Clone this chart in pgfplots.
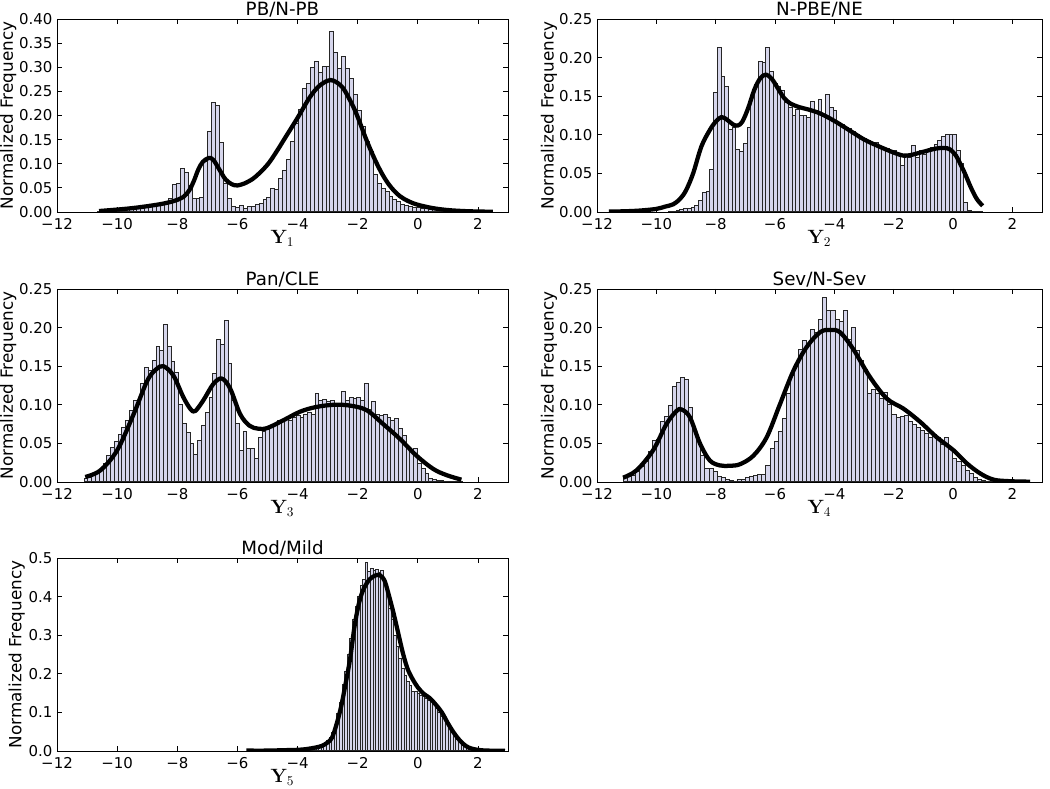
\documentclass[border=0pt]{standalone}
\usepackage[no-math]{fontspec}
\setmainfont{DejaVu Sans}
\usepackage{pgfplots}
\pgfplotsset{compat=1.18}
\definecolor{histfill}{RGB}{214,214,236}
\pgfplotsset{
  every axis title shift=0pt,
  panel/.style={
    scale only axis, anchor=south west,
    xmin=-12, xmax=3, ymin=0,
    xtick={-12,-10,-8,-6,-4,-2,0,2},
    xticklabels={−12,−10,−8,−6,−4,−2,0,2},
    tick align=inside,
    major tick length=3.5pt,
    axis line style={line width=0.6pt},
    tick style={black, line width=0.6pt},
    ticklabel style={font=\fontsize{11.2}{13}\selectfont},
    xticklabel style={yshift=-1.2pt},
    title style={font=\fontsize{13.7}{16}\selectfont, at={(axis description cs:0.5,1)}, anchor=base, yshift=2.8pt},
    xlabel style={font=\fontsize{14}{16}\selectfont, at={(axis description cs:0.5,0)}, anchor=base, yshift=-23.5pt},
    ylabel style={font=\fontsize{12.6}{15}\selectfont, at={(axis description cs:-0.108,0.5)}, anchor=center},
    ylabel={Normalized Frequency},
    scaled y ticks=false,
  },
  y25/.style={ymax=0.25, ytick={0,0.05,0.1,0.15,0.2,0.25}, yticklabels={0.00,0.05,0.10,0.15,0.20,0.25}},
  hist/.style={ybar interval, fill=histfill, draw=black!85, line width=0.75pt},
  kde/.style={black, line width=3.2pt, smooth, tension=0.55, line join=round},
}
\begin{document}
\begin{tikzpicture}
\path[use as bounding box] (0,0) rectangle (787.5pt,591.75pt);

% ---------- Panel 1 ----------
\begin{axis}[panel, at={(42.75pt,432.75pt)}, width=338.25pt, height=144.75pt,
  title={PB/N-PB}, xlabel={$\mathbf{Y}_1$},
  ymax=0.4, ytick={0,0.05,0.1,0.15,0.2,0.25,0.3,0.35,0.4},
  yticklabels={0.00,0.05,0.10,0.15,0.20,0.25,0.30,0.35,0.40}]
\addplot[hist] coordinates {
(-10.650,0.002) (-10.519,0.003) (-10.388,0.003) (-10.257,0.004) (-10.126,0.004) (-9.995,0.005) (-9.864,0.006) (-9.733,0.006) (-9.602,0.007) (-9.471,0.008) (-9.340,0.009) (-9.209,0.010) (-9.078,0.011) (-8.947,0.012) (-8.816,0.013) (-8.685,0.014) (-8.554,0.016) (-8.423,0.018) (-8.292,0.028) (-8.161,0.058) (-8.030,0.059) (-7.899,0.091) (-7.768,0.081) (-7.637,0.054) (-7.506,0.029) (-7.375,0.029) (-7.244,0.030) (-7.113,0.105) (-6.982,0.166) (-6.851,0.227) (-6.720,0.221) (-6.589,0.144) (-6.458,0.060) (-6.327,0.028) (-6.196,0.011) (-6.065,0.009) (-5.934,0.013) (-5.803,0.008) (-5.672,0.011) (-5.541,0.012) (-5.410,0.015) (-5.279,0.018) (-5.148,0.025) (-5.017,0.030) (-4.886,0.049) (-4.755,0.046) (-4.624,0.070) (-4.493,0.087) (-4.362,0.109) (-4.231,0.146) (-4.100,0.184) (-3.969,0.213) (-3.838,0.255) (-3.707,0.267) (-3.576,0.299) (-3.445,0.312) (-3.314,0.289) (-3.183,0.301) (-3.052,0.301) (-2.921,0.375) (-2.790,0.331) (-2.659,0.298) (-2.528,0.323) (-2.397,0.298) (-2.266,0.277) (-2.135,0.244) (-2.004,0.211) (-1.873,0.177) (-1.742,0.147) (-1.611,0.126) (-1.480,0.077) (-1.349,0.059) (-1.218,0.049) (-1.087,0.042) (-0.956,0.032) (-0.825,0.025) (-0.694,0.021) (-0.563,0.016) (-0.432,0.013) (-0.301,0.011) (-0.170,0.010) (-0.039,0.009) (0.092,0.008) (0.223,0.007) (0.354,0.006) (0.485,0.005) (0.616,0.005) (0.747,0.004) (0.878,0.003) (1.009,0.003) (1.140,0.002) (1.271,0.002) (1.402,0.001) (1.533,0.001) (1.664,0.001) (1.795,0.001) (1.926,0.001) (2.057,0.0005) (2.188,0.0005) (2.319,0.0005) (2.450,0)
};
\addplot[kde] coordinates {
(-10.6,0.002) (-10,0.005) (-9.5,0.008) (-9,0.012) (-8.5,0.017) (-8.1,0.023) (-7.8,0.031) (-7.6,0.045) (-7.45,0.064) (-7.3,0.088) (-7.15,0.104) (-6.95,0.112) (-6.8,0.108) (-6.6,0.088) (-6.4,0.068) (-6.2,0.058) (-6.0,0.055) (-5.7,0.061) (-5.4,0.073) (-5.0,0.098) (-4.7,0.125) (-4.4,0.155) (-4.0,0.195) (-3.6,0.237) (-3.3,0.26) (-3.0,0.272) (-2.8,0.272) (-2.5,0.258) (-2.2,0.225) (-2.0,0.197) (-1.7,0.148) (-1.4,0.105) (-1.15,0.075) (-0.9,0.052) (-0.6,0.033) (-0.3,0.022) (0,0.015) (0.5,0.008) (1,0.004) (1.5,0.002) (2,0.001) (2.5,0.0005)
};
\end{axis}

% ---------- Panel 2 ----------
\begin{axis}[panel, y25, at={(447.75pt,432.75pt)}, width=333.75pt, height=144.75pt,
  title={N-PBE/NE}, xlabel={$\mathbf{Y}_2$}]
\addplot[hist] coordinates {
(-9.584,0.0005) (-9.458,0.001) (-9.332,0.002) (-9.206,0.003) (-9.080,0.004) (-8.954,0.005) (-8.828,0.006) (-8.702,0.008) (-8.576,0.015) (-8.450,0.025) (-8.324,0.027) (-8.198,0.055) (-8.072,0.155) (-7.946,0.213) (-7.820,0.176) (-7.694,0.162) (-7.568,0.107) (-7.442,0.109) (-7.316,0.081) (-7.190,0.078) (-7.064,0.089) (-6.938,0.110) (-6.812,0.150) (-6.686,0.165) (-6.560,0.195) (-6.434,0.193) (-6.308,0.213) (-6.182,0.182) (-6.056,0.167) (-5.930,0.162) (-5.804,0.158) (-5.678,0.142) (-5.552,0.136) (-5.426,0.125) (-5.300,0.133) (-5.174,0.125) (-5.048,0.125) (-4.922,0.122) (-4.796,0.143) (-4.670,0.128) (-4.544,0.146) (-4.418,0.124) (-4.292,0.152) (-4.166,0.135) (-4.040,0.132) (-3.914,0.116) (-3.788,0.113) (-3.662,0.110) (-3.536,0.108) (-3.410,0.104) (-3.284,0.100) (-3.158,0.097) (-3.032,0.095) (-2.906,0.092) (-2.780,0.088) (-2.654,0.090) (-2.528,0.085) (-2.402,0.083) (-2.276,0.082) (-2.150,0.077) (-2.024,0.080) (-1.898,0.074) (-1.772,0.060) (-1.646,0.072) (-1.520,0.070) (-1.394,0.086) (-1.268,0.070) (-1.142,0.080) (-1.016,0.074) (-0.890,0.080) (-0.764,0.083) (-0.638,0.088) (-0.512,0.093) (-0.386,0.098) (-0.260,0.100) (-0.134,0.101) (-0.008,0.100) (0.118,0.080) (0.244,0.063) (0.370,0.012) (0.496,0.002) (0.622,0.001) (0.748,0.0005) (0.874,0.0005) (1.000,0)
};
\addplot[kde] coordinates {
(-11.6,0.0005) (-11,0.001) (-10.5,0.002) (-10,0.004) (-9.7,0.007) (-9.43,0.01) (-9.2,0.017) (-9.0,0.028) (-8.76,0.05) (-8.48,0.085) (-8.2,0.106) (-8.0,0.117) (-7.8,0.123) (-7.6,0.119) (-7.4,0.113) (-7.25,0.112) (-7.1,0.117) (-6.9,0.135) (-6.7,0.158) (-6.5,0.173) (-6.3,0.178) (-6.1,0.172) (-5.9,0.16) (-5.7,0.148) (-5.5,0.141) (-5.2,0.136) (-4.9,0.133) (-4.5,0.128) (-4.0,0.118) (-3.5,0.106) (-3.0,0.094) (-2.5,0.085) (-2.0,0.077) (-1.67,0.073) (-1.4,0.074) (-1.0,0.078) (-0.6,0.082) (-0.3,0.083) (-0.1,0.081) (0.1,0.073) (0.25,0.062) (0.4,0.05) (0.6,0.032) (0.8,0.017) (1.0,0.008)
};
\end{axis}

% ---------- Panel 3 ----------
\begin{axis}[panel, y25, at={(42.75pt,230.25pt)}, width=338.25pt, height=144.75pt,
  title={Pan/CLE}, xlabel={$\mathbf{Y}_3$}]
\addplot[hist] coordinates {
(-11.100,0.004) (-10.974,0.006) (-10.848,0.008) (-10.722,0.013) (-10.596,0.016) (-10.470,0.024) (-10.344,0.034) (-10.218,0.045) (-10.092,0.052) (-9.966,0.062) (-9.840,0.070) (-9.714,0.080) (-9.588,0.092) (-9.462,0.105) (-9.336,0.105) (-9.210,0.128) (-9.084,0.148) (-8.958,0.145) (-8.832,0.157) (-8.706,0.175) (-8.580,0.170) (-8.454,0.204) (-8.328,0.175) (-8.202,0.156) (-8.076,0.142) (-7.950,0.100) (-7.824,0.076) (-7.698,0.064) (-7.572,0.050) (-7.446,0.035) (-7.320,0.054) (-7.194,0.073) (-7.068,0.090) (-6.942,0.110) (-6.816,0.140) (-6.690,0.185) (-6.564,0.178) (-6.438,0.209) (-6.312,0.153) (-6.186,0.106) (-6.060,0.076) (-5.934,0.041) (-5.808,0.065) (-5.682,0.044) (-5.556,0.043) (-5.430,0.031) (-5.304,0.058) (-5.178,0.065) (-5.052,0.068) (-4.926,0.070) (-4.800,0.076) (-4.674,0.080) (-4.548,0.078) (-4.422,0.082) (-4.296,0.080) (-4.170,0.083) (-4.044,0.086) (-3.918,0.083) (-3.792,0.088) (-3.666,0.090) (-3.540,0.087) (-3.414,0.115) (-3.288,0.106) (-3.162,0.107) (-3.036,0.104) (-2.910,0.105) (-2.784,0.102) (-2.658,0.100) (-2.532,0.117) (-2.406,0.105) (-2.280,0.110) (-2.154,0.108) (-2.028,0.109) (-1.902,0.106) (-1.776,0.127) (-1.650,0.094) (-1.524,0.104) (-1.398,0.088) (-1.272,0.086) (-1.146,0.088) (-1.020,0.084) (-0.894,0.080) (-0.768,0.082) (-0.642,0.069) (-0.516,0.060) (-0.390,0.043) (-0.264,0.041) (-0.138,0.043) (-0.012,0.024) (0.114,0.017) (0.240,0.011) (0.366,0.005) (0.492,0.003) (0.618,0.002) (0.744,0.002) (0.870,0.001) (0.996,0.001) (1.122,0.001) (1.248,0.0005) (1.374,0.0005) (1.500,0)
};
\addplot[kde] coordinates {
(-11.06,0.0065) (-10.56,0.015) (-10.0,0.041) (-9.45,0.088) (-9.0,0.131) (-8.7,0.146) (-8.46,0.15) (-8.13,0.138) (-7.8,0.11) (-7.55,0.094) (-7.4,0.092) (-7.13,0.106) (-6.8,0.127) (-6.52,0.134) (-6.24,0.121) (-5.91,0.088) (-5.6,0.073) (-5.3,0.069) (-5.0,0.07) (-4.47,0.08) (-3.92,0.091) (-3.4,0.097) (-2.8,0.1) (-2.26,0.099) (-1.7,0.093) (-1.15,0.075) (-0.6,0.056) (-0.04,0.034) (0.51,0.017) (0.95,0.009) (1.45,0.003)
};
\end{axis}

% ---------- Panel 4 ----------
\begin{axis}[panel, y25, at={(447.75pt,230.25pt)}, width=333.75pt, height=144.75pt,
  title={Sev/N-Sev}, xlabel={$\mathbf{Y}_4$}]
\addplot[hist] coordinates {
(-11.100,0.006) (-10.963,0.007) (-10.826,0.009) (-10.689,0.013) (-10.552,0.020) (-10.415,0.026) (-10.278,0.039) (-10.141,0.054) (-10.004,0.055) (-9.867,0.079) (-9.730,0.085) (-9.593,0.099) (-9.456,0.124) (-9.319,0.129) (-9.182,0.136) (-9.045,0.133) (-8.908,0.097) (-8.771,0.067) (-8.634,0.052) (-8.497,0.034) (-8.360,0.018) (-8.223,0.018) (-8.086,0.013) (-7.949,0.007) (-7.812,0.006) (-7.675,0.003) (-7.538,0.002) (-7.401,0.001) (-7.264,0.003) (-7.127,0.003) (-6.990,0.006) (-6.853,0.007) (-6.716,0.008) (-6.579,0.010) (-6.442,0.010) (-6.305,0.022) (-6.168,0.043) (-6.031,0.052) (-5.894,0.065) (-5.757,0.082) (-5.620,0.114) (-5.483,0.138) (-5.346,0.149) (-5.209,0.172) (-5.072,0.183) (-4.935,0.177) (-4.798,0.198) (-4.661,0.194) (-4.524,0.211) (-4.387,0.239) (-4.250,0.222) (-4.113,0.222) (-3.976,0.210) (-3.839,0.208) (-3.702,0.222) (-3.565,0.185) (-3.428,0.200) (-3.291,0.170) (-3.154,0.157) (-3.017,0.146) (-2.880,0.114) (-2.743,0.120) (-2.606,0.114) (-2.469,0.108) (-2.332,0.116) (-2.195,0.100) (-2.058,0.088) (-1.921,0.084) (-1.784,0.085) (-1.647,0.086) (-1.510,0.078) (-1.373,0.074) (-1.236,0.071) (-1.099,0.067) (-0.962,0.063) (-0.825,0.058) (-0.688,0.062) (-0.551,0.057) (-0.414,0.048) (-0.277,0.057) (-0.140,0.043) (-0.003,0.030) (0.134,0.026) (0.271,0.022) (0.408,0.015) (0.545,0.011) (0.682,0.006) (0.819,0.003) (0.956,0.002) (1.093,0.001) (1.230,0.001) (1.367,0.001) (1.504,0.0005) (1.641,0.0005) (1.778,0.0005) (1.915,0.0005) (2.052,0)
};
\addplot[kde] coordinates {
(-11.12,0.0056) (-10.67,0.015) (-10.11,0.041) (-9.66,0.075) (-9.32,0.092) (-9.15,0.094) (-8.87,0.084) (-8.53,0.05) (-8.2,0.028) (-7.86,0.0215) (-7.52,0.021) (-7.18,0.023) (-6.73,0.034) (-6.28,0.058) (-5.83,0.101) (-5.38,0.144) (-4.93,0.175) (-4.48,0.194) (-4.15,0.197) (-3.81,0.194) (-3.36,0.172) (-2.8,0.136) (-2.23,0.108) (-1.67,0.095) (-1.11,0.078) (-0.55,0.058) (0.02,0.041) (0.47,0.024) (0.92,0.011) (1.37,0.003) (1.93,0.001) (2.6,0.0004)
};
\end{axis}

% ---------- Panel 5 ----------
\begin{axis}[panel, at={(42.75pt,28.5pt)}, width=338.25pt, height=144.75pt,
  title={Mod/Mild}, xlabel={$\mathbf{Y}_5$},
  ymax=0.5, ytick={0,0.1,0.2,0.3,0.4,0.5}, yticklabels={0.0,0.1,0.2,0.3,0.4,0.5},
  ylabel style={at={(axis description cs:-0.089,0.5)}}]
\addplot[hist] coordinates {
(-3.980,0.001) (-3.894,0.002) (-3.808,0.002) (-3.722,0.003) (-3.636,0.004) (-3.550,0.005) (-3.464,0.007) (-3.378,0.008) (-3.292,0.011) (-3.206,0.014) (-3.120,0.020) (-3.034,0.026) (-2.948,0.035) (-2.862,0.048) (-2.776,0.065) (-2.690,0.098) (-2.604,0.125) (-2.518,0.172) (-2.432,0.205) (-2.346,0.250) (-2.260,0.292) (-2.174,0.340) (-2.088,0.375) (-2.002,0.400) (-1.916,0.430) (-1.830,0.445) (-1.744,0.488) (-1.658,0.465) (-1.572,0.472) (-1.486,0.468) (-1.400,0.470) (-1.314,0.462) (-1.228,0.468) (-1.142,0.440) (-1.056,0.410) (-0.970,0.370) (-0.884,0.340) (-0.798,0.300) (-0.712,0.270) (-0.626,0.240) (-0.540,0.215) (-0.454,0.195) (-0.368,0.180) (-0.282,0.170) (-0.196,0.155) (-0.110,0.153) (-0.024,0.148) (0.062,0.145) (0.148,0.140) (0.234,0.137) (0.320,0.130) (0.406,0.130) (0.492,0.120) (0.578,0.110) (0.664,0.100) (0.750,0.090) (0.836,0.083) (0.922,0.070) (1.008,0.060) (1.094,0.050) (1.180,0.040) (1.266,0.030) (1.352,0.022) (1.438,0.016) (1.524,0.011) (1.610,0.008) (1.696,0.005) (1.782,0.003) (1.868,0.002) (1.954,0.0015) (2.040,0.001) (2.126,0.001) (2.212,0.0005) (2.298,0.0005) (2.384,0.0005) (2.470,0)
};
\addplot[kde] coordinates {
(-5.7,0.001) (-5.0,0.001) (-4.5,0.002) (-4.0,0.003) (-3.7,0.005) (-3.4,0.009) (-3.2,0.013) (-3.0,0.022) (-2.85,0.035) (-2.7,0.07) (-2.55,0.115) (-2.4,0.175) (-2.25,0.24) (-2.1,0.325) (-1.95,0.385) (-1.8,0.42) (-1.6,0.445) (-1.4,0.455) (-1.25,0.455) (-1.1,0.44) (-0.95,0.4) (-0.8,0.355) (-0.65,0.305) (-0.5,0.255) (-0.35,0.215) (-0.2,0.19) (0.0,0.165) (0.2,0.148) (0.4,0.137) (0.6,0.12) (0.8,0.1) (1.0,0.072) (1.2,0.047) (1.4,0.027) (1.6,0.013) (1.8,0.006) (2.1,0.002) (2.5,0.0007) (2.9,0.0003)
};
\end{axis}
\end{tikzpicture}
\end{document}
